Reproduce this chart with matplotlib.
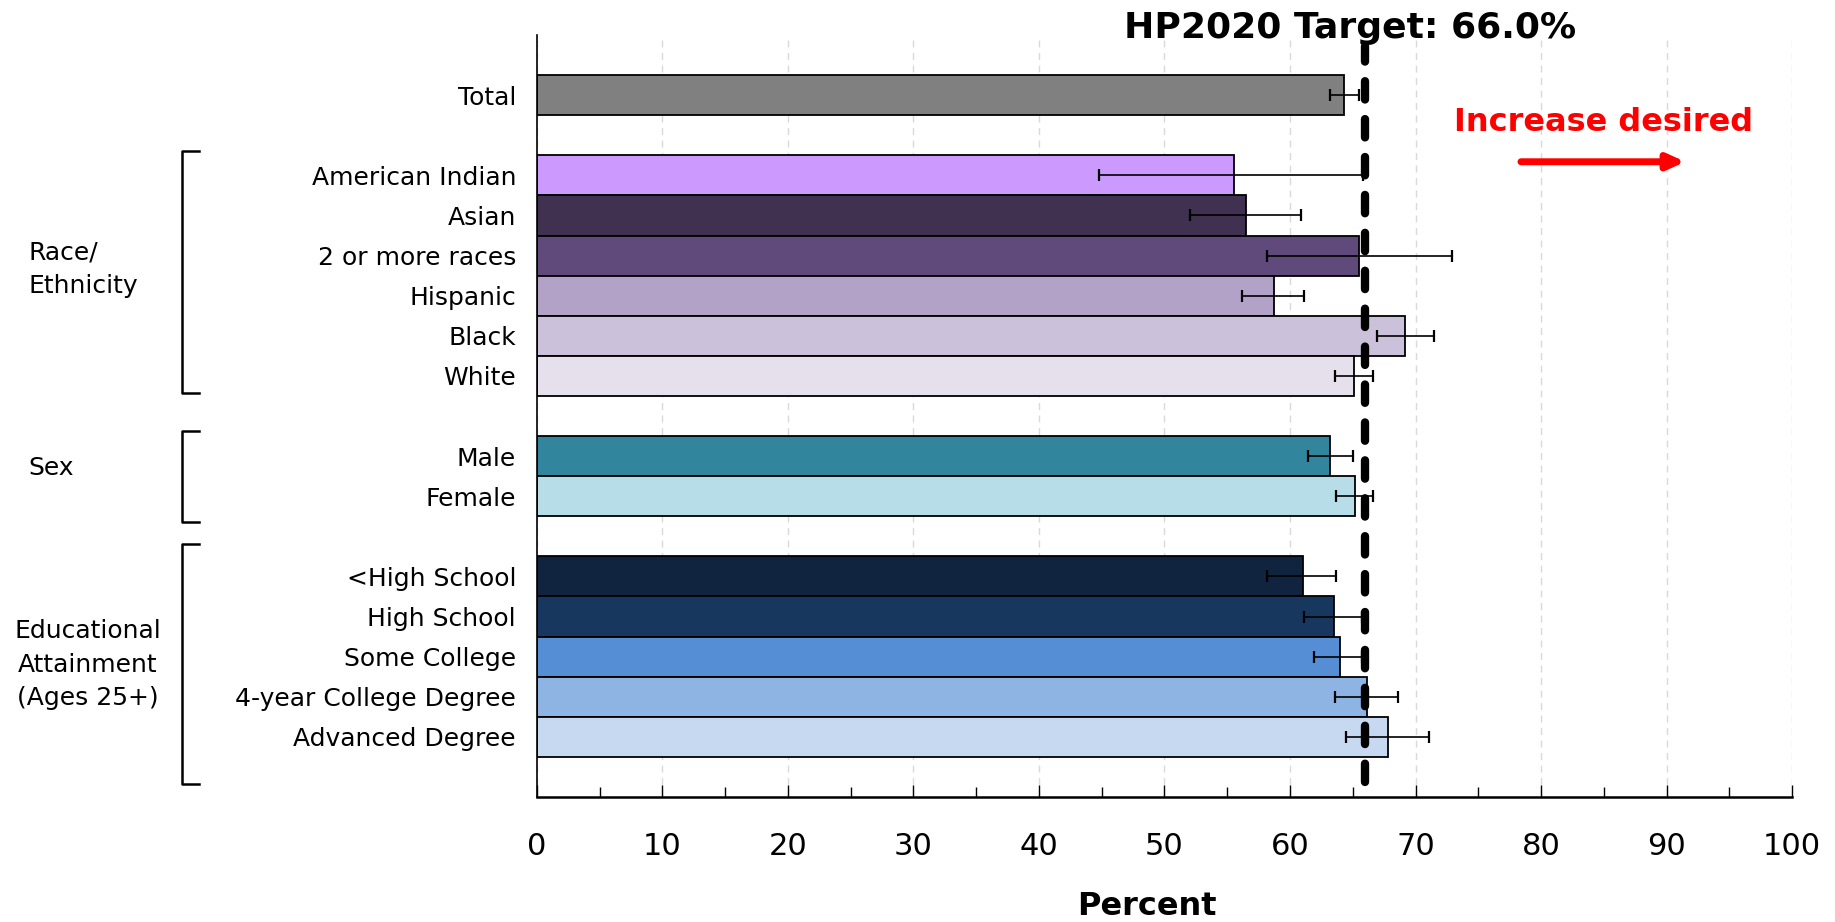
import numpy as np
import matplotlib.pyplot as plt
from matplotlib.transforms import blended_transform_factory

# Data
labels = ['Total',
          'American Indian', 'Asian', '2 or more races', 'Hispanic', 'Black', 'White',
          'Male', 'Female',
          '<High School', 'High School', 'Some College', '4-year College Degree',
          'Advanced Degree']
values = [64.3,
          55.5, 56.5, 65.5, 58.7, 69.2, 65.1,
          63.2, 65.2,
          61.0, 63.5, 64.0, 66.1, 67.8]
ci_low = [63.2,
          44.8, 52.0, 58.2, 56.2, 66.9, 63.6,
          61.4, 63.7,
          58.2, 61.1, 61.9, 63.6, 64.5]
ci_high = [65.5,
           65.8, 60.9, 72.9, 61.1, 71.5, 66.6,
           65.0, 66.6,
           63.7, 65.7, 65.7, 68.6, 71.1]
colors = ['#808080',
          '#CC99FF', '#403151', '#604A7B', '#B3A2C7', '#CCC1DA', '#E6E0EC',
          '#31859C', '#B7DEE8',
          '#10243F', '#17375E', '#558ED5', '#8EB4E3', '#C6D9F1']
group_sizes = [1, 6, 2, 5]
group_names = ['Race/\nEthnicity', 'Sex', 'Educational\nAttainment\n(Ages 25+)']
target = 66.0

# row positions, one empty row between groups
pos = []
y = 0
for n in group_sizes:
    for i in range(n):
        pos.append(y)
        y += 1
    y += 1
pos = np.array(pos)
values = np.array(values)
xerr = np.array([values - np.array(ci_low), np.array(ci_high) - values])

fig = plt.figure(figsize=(18.35, 9.22), dpi=100)
ax = fig.add_axes([0.2926, 0.1356, 0.6840, 0.8264])

ax.barh(pos, values, height=1.0, color=colors, edgecolor='black', linewidth=1.3, zorder=2)
ax.errorbar(values, pos, xerr=xerr, fmt='none', ecolor='black', elinewidth=1.2,
            capsize=4.5, capthick=1.6, zorder=4)

# target line
ax.axvline(target, ymin=0.02, ymax=0.985, color='black', linewidth=6,
           linestyle=(0, (2.2, 2.35)), dash_capstyle='round', zorder=5)

ax.set_xlim(0, 100)
ax.set_ylim(17.5, -1.5)
ax.set_xticks(np.arange(0, 101, 10))
ax.set_xticks(np.arange(5, 100, 10), minor=True)
ax.set_yticks(pos)
ax.set_yticklabels(labels, fontsize=18)
ax.tick_params(axis='y', length=0, pad=15)
ax.tick_params(axis='x', which='major', direction='in', length=9, width=1.0,
               labelsize=22, pad=25)
ax.tick_params(axis='x', which='minor', direction='in', length=7, width=1.0)
ax.grid(axis='x', which='major', color='#d9d9d9', linestyle=(0, (5, 4)), linewidth=1.0, zorder=0)
ax.set_axisbelow(True)
for s in ['top', 'right']:
    ax.spines[s].set_visible(False)
ax.spines['left'].set_linewidth(1.2)
ax.spines['bottom'].set_linewidth(1.8)

# title and annotations
fig.text(0.7357, 0.970, 'HP2020 Target: 66.0%', fontsize=26, fontweight='bold',
         ha='center', va='center')
fig.text(0.625, 0.017, 'Percent', fontsize=23, fontweight='bold', ha='center', va='center')
ax.text(85, 0.68, 'Increase desired', color='red', fontsize=23, fontweight='bold',
        ha='center', va='center')
ax.annotate('', xy=(91.5, 1.66), xytext=(78.4, 1.66),
            arrowprops=dict(arrowstyle='-|>,head_length=1.0,head_width=0.45',
                            color='red', lw=5, shrinkA=0, shrinkB=0))

# group brackets and labels
trans = blended_transform_factory(ax.transAxes, ax.transData)
brackets = [(1.40, 7.43), (8.37, 10.64), (11.2, 17.17)]
label_pos = [(-0.405, 4.35, 'left'), (-0.405, 9.3, 'left'), (-0.358, 14.2, 'center')]
for (y0, y1), (lx, ly, ha), name in zip(brackets, label_pos, group_names):
    ax.plot([-0.2693, -0.2824, -0.2824, -0.2693], [y0, y0, y1, y1], color='black',
            linewidth=1.8, transform=trans, clip_on=False)
    ax.text(lx, ly, name, fontsize=18, ha=ha, va='center', multialignment=ha,
            linespacing=1.5, transform=trans)

fig.savefig('out.png', dpi=100)
